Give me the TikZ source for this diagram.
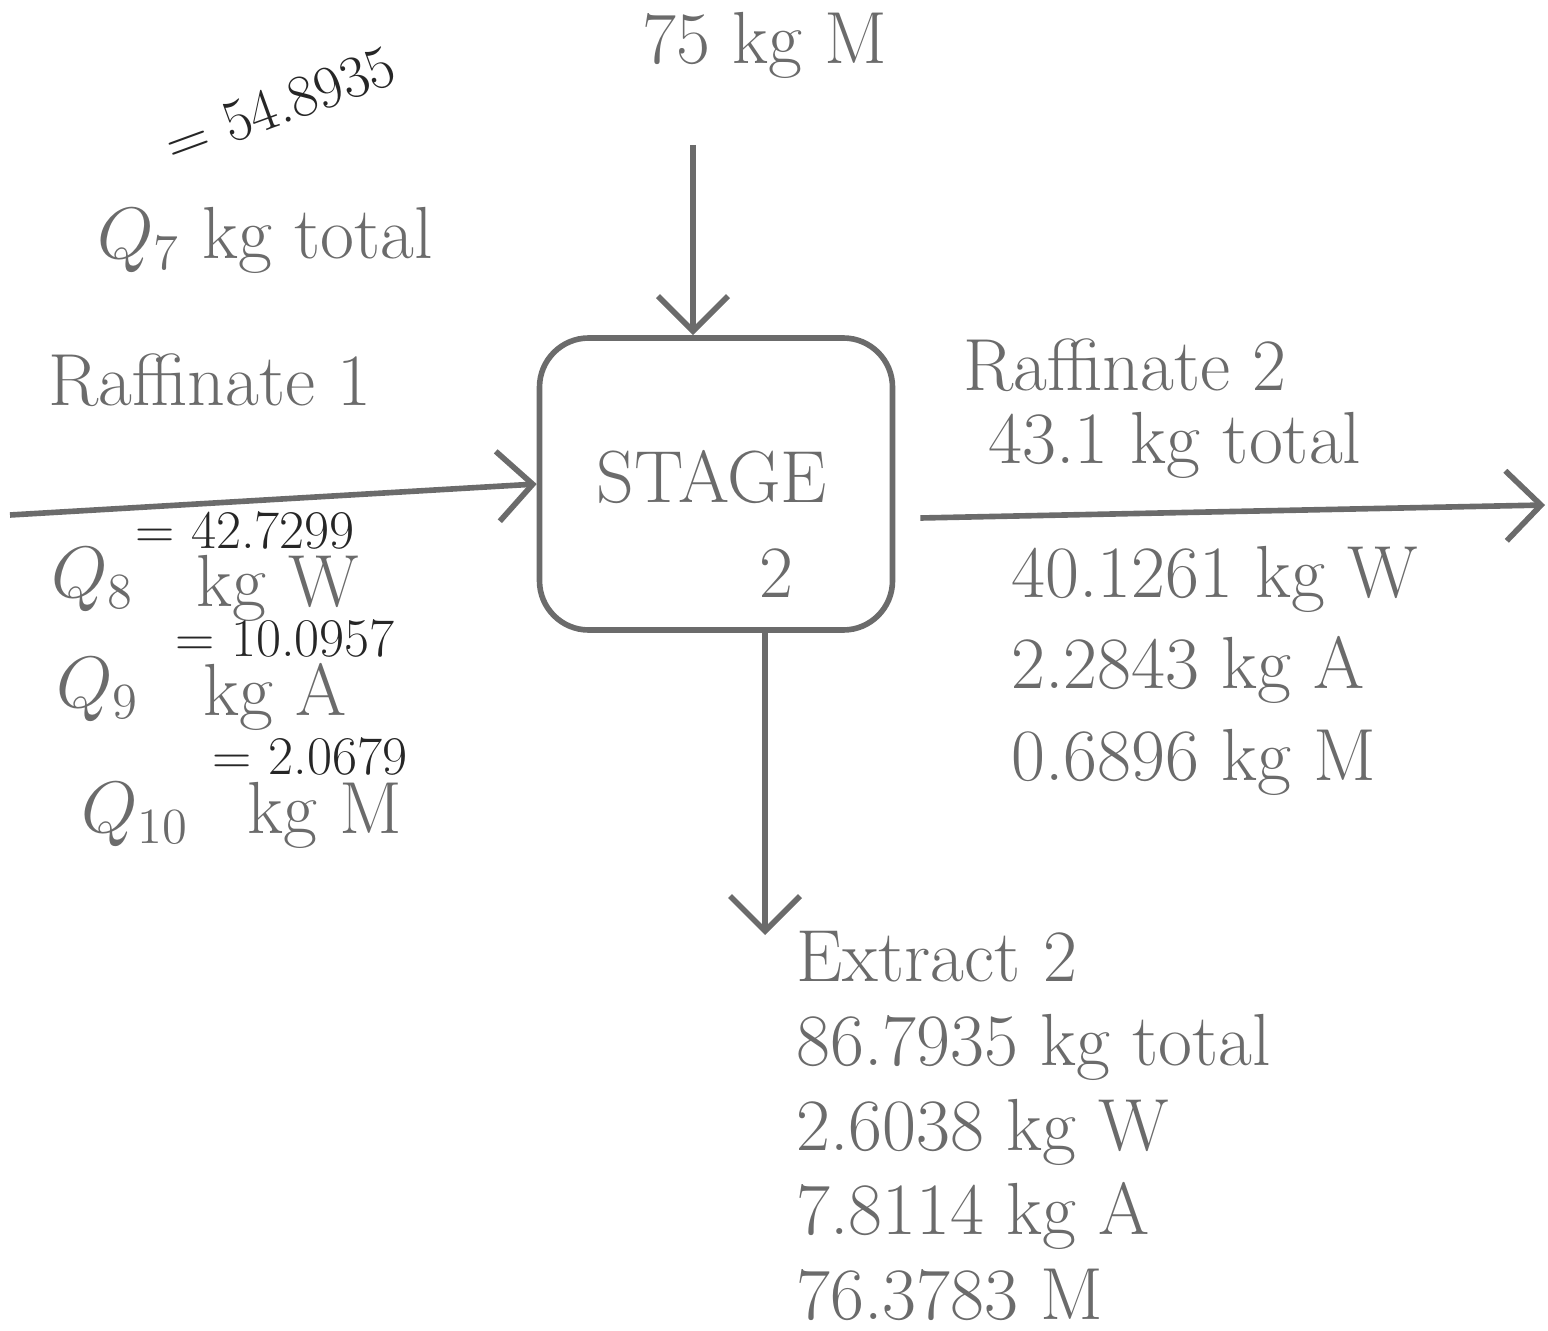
\documentclass[tikz,border=0pt]{standalone}
\usepackage{amsmath}
\usepackage{tikz}
\usetikzlibrary{arrows.meta}
\definecolor{pencil}{gray}{0.42}
\definecolor{ink}{gray}{0.15}

\begin{document}
\begin{tikzpicture}[line width=1.6pt, draw=pencil,
  every node/.style={font=\fontsize{21}{25}\selectfont, text=pencil, inner sep=1pt},
  small/.style={font=\fontsize{15.5}{18}\selectfont, text=ink},
  stagebox/.style={draw=pencil, rounded corners=14pt, minimum width=3.53cm, minimum height=2.92cm},
  flow/.style={-{Straight Barb[length=3.5mm, width=7mm, line width=1.6pt]}}]

\useasboundingbox (0,0) rectangle (15.48,13.30);

\node (M) at (7.65,12.85) {75 kg M};
\node[stagebox] (S) at (7.16,8.46) {};
\node[align=left] (ST) at (7.12,8.06) {STAGE\\[2pt]\hspace*{2.2em}2};

\coordinate (m0) at (6.93,11.85);
\coordinate (r1) at (0.10,8.15);
\coordinate (r2) at (15.45,8.25);
\coordinate (e2) at (7.65,3.95);

\draw[flow] (m0) -- (m0 |- S.north);
\draw[flow] (r1) -- (S.west);
\draw[flow] ([xshift=0.25cm,yshift=-0.34cm]S.east) -- (r2);
\draw[flow] ([xshift=0.49cm]S.south) -- (e2);

\node[small, font=\fontsize{17}{20}\selectfont, rotate=20] (n7) at (2.80,12.25) {= 54.8935};
\node (Q7) at (2.65,10.90) {$Q_7$ kg total};
\node (R1) at (2.10,9.50) {Raffinate 1};

\node[anchor=west] (Q8) at (0.45,7.50) {$Q_8$};
\node (W8) at (2.78,7.42) {kg W};
\node[small] (n8) at (2.45,8.00) {= 42.7299};

\node[anchor=west] (Q9) at (0.50,6.40) {$Q_9$};
\node (A9) at (2.75,6.33) {kg A};
\node[small] (n9) at (2.85,6.92) {= 10.0957};

\node[anchor=west] (Q10) at (0.75,5.15) {$Q_{10}$};
\node (M10) at (3.25,5.15) {kg M};
\node[small] (n10) at (3.10,5.74) {= 2.0679};

\node (R2) at (11.25,9.65) {Raffinate 2};
\node (T2) at (11.75,8.85) {43.1 kg total};
\node[anchor=north west, align=left, font=\fontsize{21}{26}\selectfont] (R2c) at (10.05,7.90) {40.1261 kg W\\2.2843 kg A\\0.6896 kg M};

\node[anchor=north west, align=left, font=\fontsize{21}{24}\selectfont] (E2) at (7.90,4.05) {Extract 2\\86.7935 kg total\\2.6038 kg W\\7.8114 kg A\\76.3783 M};

\end{tikzpicture}
\end{document}
